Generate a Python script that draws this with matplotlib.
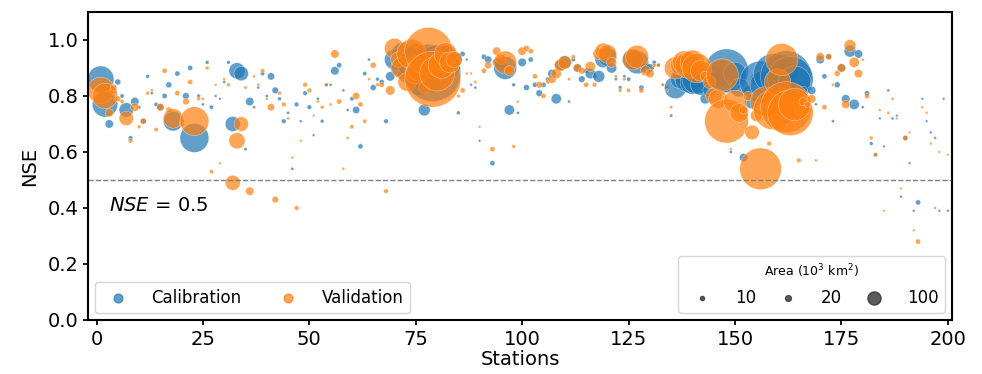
import matplotlib
matplotlib.use('Agg')
import matplotlib.pyplot as plt
import numpy as np

# station index, calibration / validation NSE, catchment area (10^3 km2)
stations = list(range(1, 201))

nse_cal = [
    0.86, 0.77, 0.70, 0.82, 0.85, 0.80, 0.75, 0.65, 0.78, 0.76,
    0.71, 0.87, 0.81, 0.77, 0.76, 0.80, 0.84, 0.71, 0.88, 0.71,
    0.80, 0.90, 0.65, 0.80, 0.77, 0.92, 0.76, 0.80, 0.79, 0.85,
    0.92, 0.70, 0.89, 0.88, 0.61, 0.78, 0.76, 0.83, 0.88, 0.80,
    0.87, 0.82, 0.79, 0.71, 0.74, 0.54, 0.77, 0.71, 0.81, 0.76,
    0.66, 0.79, 0.71, 0.84, 0.84, 0.89, 0.91, 0.82, 0.75, 0.79,
    0.75, 0.62, 0.88, 0.93, 0.83, 0.86, 0.85, 0.71, 0.87, 0.93,
    0.90, 0.95, 0.88, 0.92, 0.95, 0.85, 0.75, 0.90, 0.88, 0.92,
    0.93, 0.94, 0.90, 0.93, 0.74, 0.95, 0.93, 0.84, 0.83, 0.64,
    0.94, 0.93, 0.56, 0.92, 0.91, 0.90, 0.75, 0.84, 0.74, 0.92,
    0.83, 0.93, 0.84, 0.81, 0.84, 0.86, 0.88, 0.79, 0.91, 0.92,
    0.78, 0.93, 0.90, 0.86, 0.89, 0.88, 0.87, 0.87, 0.93, 0.94,
    0.90, 0.86, 0.83, 0.87, 0.86, 0.93, 0.92, 0.83, 0.90, 0.90,
    0.92, 0.91, 0.84, 0.83, 0.73, 0.83, 0.86, 0.88, 0.86, 0.85,
    0.86, 0.84, 0.79, 0.82, 0.88, 0.86, 0.87, 0.89, 0.60, 0.88,
    0.83, 0.58, 0.82, 0.78, 0.86, 0.85, 0.84, 0.86, 0.88, 0.85,
    0.89, 0.87, 0.86, 0.85, 0.83, 0.82, 0.75, 0.82, 0.77, 0.93,
    0.87, 0.94, 0.71, 0.84, 0.90, 0.79, 0.96, 0.77, 0.95, 0.76,
    0.81, 0.63, 0.59, 0.72, 0.62, 0.82, 0.72, 0.73, 0.44, 0.65,
    0.56, 0.39, 0.42, 0.79, 0.71, 0.67, 0.65, 0.39, 0.79, 0.39,
]

nse_val = [
    0.82, 0.80, 0.74, 0.83, 0.79, 0.78, 0.72, 0.64, 0.76, 0.69,
    0.71, 0.81, 0.82, 0.68, 0.76, 0.89, 0.75, 0.72, 0.81, 0.70,
    0.78, 0.85, 0.71, 0.79, 0.79, 0.90, 0.53, 0.84, 0.56, 0.86,
    0.84, 0.49, 0.64, 0.70, 0.83, 0.46, 0.87, 0.84, 0.89, 0.79,
    0.76, 0.43, 0.81, 0.77, 0.72, 0.58, 0.40, 0.64, 0.84, 0.82,
    0.73, 0.78, 0.76, 0.84, 0.77, 0.95, 0.78, 0.54, 0.65, 0.69,
    0.80, 0.77, 0.71, 0.86, 0.91, 0.84, 0.84, 0.46, 0.82, 0.97,
    0.93, 0.90, 0.85, 0.95, 0.88, 0.90, 0.83, 0.96, 0.86, 0.88,
    0.91, 0.95, 0.92, 0.93, 0.80, 0.82, 0.88, 0.88, 0.85, 0.69,
    0.89, 0.91, 0.61, 0.96, 0.93, 0.92, 0.89, 0.62, 0.78, 0.96,
    0.97, 0.96, 0.87, 0.84, 0.80, 0.85, 0.86, 0.88, 0.91, 0.92,
    0.86, 0.94, 0.90, 0.89, 0.84, 0.905, 0.84, 0.95, 0.96, 0.95,
    0.92, 0.87, 0.82, 0.86, 0.82, 0.93, 0.94, 0.82, 0.89, 0.88,
    0.91, 0.91, 0.84, 0.82, 0.76, 0.90, 0.91, 0.92, 0.91, 0.92,
    0.90, 0.89, 0.87, 0.85, 0.80, 0.79, 0.875, 0.71, 0.61, 0.78,
    0.74, 0.75, 0.80, 0.67, 0.73, 0.54, 0.78, 0.63, 0.75, 0.85,
    0.93, 0.76, 0.74, 0.77, 0.57, 0.78, 0.77, 0.79, 0.57, 0.94,
    0.76, 0.94, 0.84, 0.88, 0.90, 0.77, 0.98, 0.92, 0.88, 0.93,
    0.80, 0.65, 0.59, 0.75, 0.39, 0.74, 0.79, 0.72, 0.47, 0.65,
    0.67, 0.32, 0.28, 0.76, 0.74, 0.63, 0.40, 0.60, 0.79, 0.59,
]

area = [
    400, 370, 40, 25, 20, 10, 120, 12, 40, 8,
    20, 8, 5, 10, 30, 15, 20, 220, 15, 15,
    25, 15, 480, 8, 5, 8, 10, 4, 4, 5,
    8, 130, 150, 120, 6, 40, 5, 5, 10, 5,
    30, 25, 8, 12, 5, 5, 12, 4, 12, 12,
    4, 5, 8, 8, 5, 40, 15, 5, 5, 10,
    30, 15, 10, 5, 20, 8, 15, 12, 50, 230,
    150, 300, 200, 500, 250, 400, 80, 1300, 1800, 700,
    400, 300, 250, 150, 8, 15, 4, 4, 5, 4,
    15, 30, 15, 40, 60, 300, 60, 8, 5, 40,
    20, 15, 15, 25, 15, 10, 40, 60, 80, 100,
    5, 10, 40, 25, 15, 60, 12, 80, 150, 200,
    60, 6, 8, 6, 10, 250, 300, 15, 60, 40,
    10, 8, 5, 6, 6, 280, 200, 300, 400, 350,
    500, 250, 60, 100, 150, 200, 600, 1100, 5, 300,
    200, 40, 50, 120, 80, 1000, 500, 12, 900, 400,
    600, 1500, 1200, 600, 12, 40, 20, 40, 5, 40,
    15, 20, 5, 20, 40, 40, 80, 60, 40, 5,
    15, 8, 10, 4, 4, 5, 5, 4, 4, 15,
    4, 4, 15, 4, 4, 4, 4, 4, 4, 4,
]

legend_areas = [10, 20, 100]

size_scale = 0.9
c_cal = '#1f77b4'
c_val = '#ff7f0e'

fig = plt.figure(figsize=(9.82, 3.74), dpi=100)
ax = fig.add_axes([0.0896, 0.1444, 0.88, 0.8236])

sizes = np.array(area) * size_scale
ax.scatter(stations, nse_cal, s=sizes, color=c_cal, alpha=0.7,
           edgecolors='white', linewidths=0.3, label='Calibration')
ax.scatter(stations, nse_val, s=sizes, color=c_val, alpha=0.7,
           edgecolors='white', linewidths=0.3, label='Validation')

ax.axhline(0.5, color='grey', linestyle='--', linewidth=1)
ax.text(3, 0.41, '$NSE$ = 0.5', fontsize=14, va='center', ha='left')

ax.set_xlim(-2, 201)
ax.set_ylim(0, 1.1)
ax.set_xticks(np.arange(0, 201, 25))
ax.set_yticks(np.arange(0, 1.01, 0.2))
ax.tick_params(labelsize=14, width=1.3)
ax.set_xlabel('Stations', fontsize=14, labelpad=1)
ax.set_ylabel('NSE', fontsize=14, labelpad=6)
for sp in ax.spines.values():
    sp.set_linewidth(1.5)

# legend for the two periods
h_cal = ax.scatter([], [], s=40, color=c_cal, alpha=0.7)
h_val = ax.scatter([], [], s=40, color=c_val, alpha=0.7)
leg1 = ax.legend([h_cal, h_val], ['Calibration', 'Validation'], loc='lower left',
                 ncol=2, fontsize=12, handletextpad=1.0, columnspacing=1.8,
                 borderaxespad=0.4, scatterpoints=1)
ax.add_artist(leg1)

# legend for the catchment area
size_handles = [ax.scatter([], [], s=a * size_scale, color='#333333', alpha=0.8)
                for a in legend_areas]
ax.legend(size_handles, [str(a) for a in legend_areas], loc='lower right', ncol=3,
          title='Area (10$^3$ km$^2$)', title_fontsize=9, fontsize=12,
          handletextpad=1.0, columnspacing=0.9, borderaxespad=0.4, scatterpoints=1)

plt.savefig('out.png', dpi=100)
plt.close()
